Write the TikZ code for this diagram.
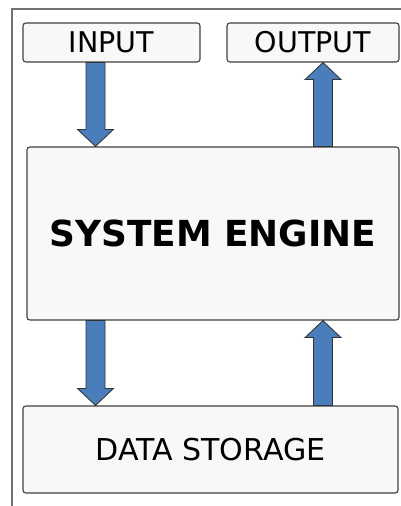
\documentclass[tikz,border=0pt]{standalone}
\usepackage{fontspec}
\setmainfont{DejaVu Sans}
\usetikzlibrary{calc}

\definecolor{arrowblue}{HTML}{4A7EBB}
\definecolor{boxfill}{HTML}{F8F8F8}

\begin{document}
\begin{tikzpicture}
    \tikzstyle{block} = [rectangle, draw=black!75, fill=boxfill, line width=.8pt,
        rounded corners=2pt, inner sep=0pt, font=\fontsize{20.3}{24}\selectfont]
    \tikzstyle{frame} = [draw=black!55, line width=.05cm]
    \tikzstyle{fatarrow} = [draw=black!80, fill=arrowblue, line width=.6pt,
        to path={($(\tikztostart) + (-.2375, 0)$)
            -- ($(\tikztotarget)!.425cm!(\tikztostart) + (-.2375, 0)$)
            -- ($(\tikztotarget)!.425cm!(\tikztostart) + (-.45, 0)$)
            -- (\tikztotarget)
            -- ($(\tikztotarget)!.425cm!(\tikztostart) + (.45, 0)$)
            -- ($(\tikztotarget)!.425cm!(\tikztostart) + (.2375, 0)$)
            -- ($(\tikztostart) + (.2375, 0)$) -- cycle}]

    \useasboundingbox (0, 0) rectangle (10.025, 12.65);
    \clip (0, 0) rectangle (10.025, 12.65);

    % Frame ---------------------------------------------
    \draw [frame] (.2875, -.5) -- (.2875, 12.425) -- (10.5, 12.425);

    % Boxes ---------------------------------------------
    \node (engine) at (5.325, 6.8125) [block, minimum width=9.3cm,
        minimum height=4.325cm, font=\bfseries\fontsize{25.5}{30}\selectfont] {SYSTEM ENGINE};
    \node (input) at ($(engine) + (-2.5375, 4.775)$) [block, minimum width=4.425cm,
        minimum height=.975cm] {INPUT};
    \node (output) at ($(engine) + (2.5, 4.775)$) [block, minimum width=4.3cm,
        minimum height=.975cm] {OUTPUT};
    \node (storage) at ($(engine) + (-.0625, -5.4)$) [block, minimum width=9.375cm,
        minimum height=2.175cm, font=\fontsize{21.4}{25}\selectfont] {DATA STORAGE};
    % ---------------------------------------------------

    % Arrows
    \coordinate (lx) at (2.3875, 0);
    \coordinate (rx) at (8.075, 0);

    \draw [fatarrow] (input.south -| lx) to (engine.north -| lx);
    \draw [fatarrow] (engine.north -| rx) to (output.south -| rx);

    \draw [fatarrow] (engine.south -| lx) to (storage.north -| lx);
    \draw [fatarrow] (storage.north -| rx) to (engine.south -| rx);
\end{tikzpicture}
\end{document}
